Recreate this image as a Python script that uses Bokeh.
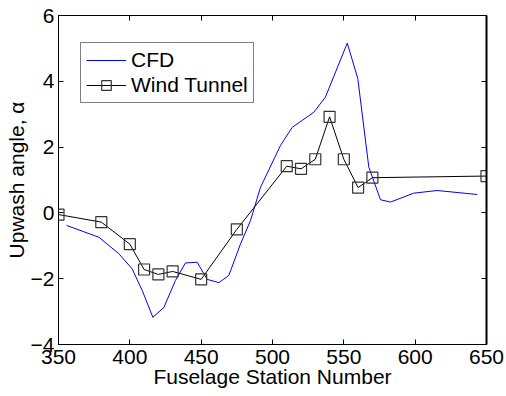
from bokeh.plotting import figure
from bokeh.models import (LinearAxis, FixedTicker, Range1d, Legend, LegendItem,
                          CustomJSTickFormatter)
from bokeh.embed import file_html
from bokeh.resources import INLINE

# CFD curve
cfd_x = [355.6, 378.3, 392.3, 401.6, 408.7, 416.1, 423.8, 432.0, 439.0, 447.2,
         454.2, 462.4, 469.4, 477.6, 484.6, 491.6, 505.6, 513.8, 529.0, 537.1,
         552.4, 559.8, 567.5, 575.7, 582.7, 599.0, 615.4, 643.5]
cfd_y = [-0.38, -0.74, -1.24, -1.70, -2.36, -3.17, -2.88, -2.05, -1.52, -1.50,
         -2.02, -2.12, -1.90, -0.94, -0.23, 0.78, 2.05, 2.60, 3.06, 3.52,
         5.16, 4.08, 1.39, 0.40, 0.33, 0.60, 0.68, 0.56]

# Wind tunnel measurements
wt_x = [350, 380, 400, 410, 420, 430, 450, 475, 510, 520, 530, 540, 550, 560, 570, 650]
wt_y = [-0.05, -0.28, -0.95, -1.72, -1.87, -1.78, -2.02, -0.50, 1.42, 1.34, 1.63,
        2.92, 1.63, 0.77, 1.07, 1.12]

x_ticks = [350, 400, 450, 500, 550, 600, 650]
y_ticks = [-4, -2, 0, 2, 4, 6]
x_label = "Fuselage Station Number"
y_label = "Upwash angle, α"

FONT = "Liberation Sans"
FS = "21px"

p = figure(width=506, height=396, output_backend="svg", toolbar_location=None,
           x_range=Range1d(350, 650), y_range=Range1d(-4, 6),
           min_border_left=58, min_border_right=20, min_border_top=15, min_border_bottom=52)

p.xgrid.visible = False
p.ygrid.visible = False
p.outline_line_color = "black"
p.outline_line_width = 1
p.background_fill_color = "white"
p.border_fill_color = "white"

for ax, ticks in ((p.xaxis[0], x_ticks), (p.yaxis[0], y_ticks)):
    ax.ticker = FixedTicker(ticks=ticks)
    ax.major_tick_in = 5
    ax.major_tick_out = 0
    ax.minor_tick_in = 0
    ax.minor_tick_out = 0
    ax.major_label_text_font = FONT
    ax.major_label_text_font_size = FS
    ax.major_label_text_color = "black"
    ax.axis_label_text_font = FONT
    ax.axis_label_text_font_size = FS
    ax.axis_label_text_font_style = "normal"
    ax.axis_label_text_color = "black"
    ax.axis_line_color = "black"
    ax.major_tick_line_color = "black"

p.xaxis.axis_label = x_label
p.yaxis.axis_label = y_label
p.xaxis.major_label_standoff = 5
p.xaxis.axis_label_standoff = -2
p.yaxis.major_label_standoff = 4
p.yaxis.axis_label_standoff = 0

blank = CustomJSTickFormatter(code="return '';")
top = LinearAxis(ticker=FixedTicker(ticks=x_ticks), major_tick_in=5, major_tick_out=0,
                 minor_tick_in=0, minor_tick_out=0, formatter=blank,
                 major_label_standoff=0, axis_label_standoff=0, axis_line_color="black")
right = LinearAxis(ticker=FixedTicker(ticks=y_ticks), major_tick_in=5, major_tick_out=0,
                   minor_tick_in=0, minor_tick_out=0, formatter=blank,
                   major_label_standoff=0, axis_label_standoff=0,
                   axis_line_color="black", axis_line_width=2)
p.add_layout(top, "above")
p.add_layout(right, "right")

r_cfd = p.line(cfd_x, cfd_y, line_color="#0000ff", line_width=1)
r_wt_line = p.line(wt_x, wt_y, line_color="black", line_width=1)
r_wt_pts = p.scatter(wt_x, wt_y, marker="square", size=11, fill_color=None,
                     line_color="#333333", line_width=1.2)

legend = Legend(items=[LegendItem(label="CFD", renderers=[r_cfd]),
                       LegendItem(label="Wind Tunnel", renderers=[r_wt_line, r_wt_pts])],
                location=(22, 241))
legend.label_text_font = FONT
legend.label_text_font_size = FS
legend.label_text_color = "black"
legend.border_line_color = "black"
legend.border_line_width = 1
legend.glyph_width = 40
legend.glyph_height = 24
legend.label_height = 24
legend.label_standoff = 5
legend.spacing = 1
legend.padding = 5
legend.margin = 0
legend.background_fill_alpha = 1
p.add_layout(legend, "center")

open("out.html", "w").write(file_html(p, INLINE))
